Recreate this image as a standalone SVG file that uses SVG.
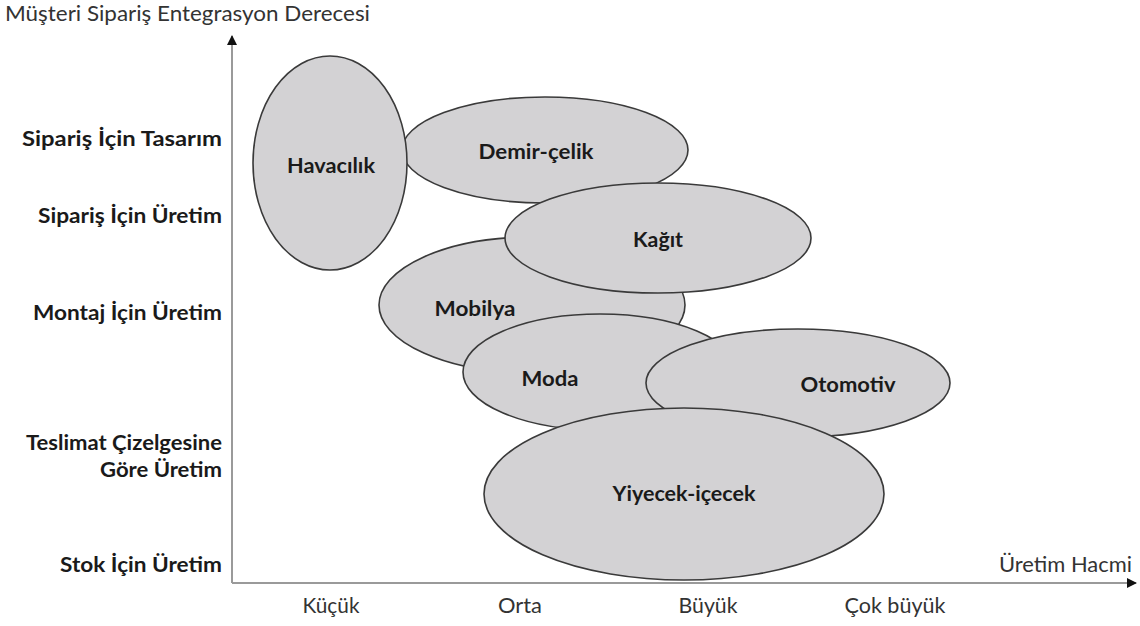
<svg xmlns="http://www.w3.org/2000/svg" width="1140" height="626" viewBox="0 0 1140 626">
  <style>
    .ell { fill: #d3d2d4; stroke: #3a3a3a; stroke-width: 1.6; }
    .lbl { font-family: Lato, "Liberation Sans", sans-serif; font-weight: bold; font-size: 21px; fill: #1a1a1a; text-anchor: middle; }
    .ylab { font-family: Lato, "Liberation Sans", sans-serif; font-weight: bold; font-size: 21px; fill: #1a1a1a; text-anchor: end; }
    .xlab { font-family: Lato, "Liberation Sans", sans-serif; font-size: 21px; fill: #333; text-anchor: middle; }
    .axis { stroke: #9a9a9a; stroke-width: 2; fill: none; }
  </style>
  <defs>
    <marker id="arr" viewBox="0 0 10 10" refX="9" refY="5" markerWidth="5" markerHeight="5" orient="auto-start-reverse">
      <path d="M0,0 L10,5 L0,10 z" fill="#111"/>
    </marker>
  </defs>
  <rect width="1140" height="626" fill="#fff"/>

  <!-- axes -->
  <g id="connectors">
    <path class="axis" d="M232,583 L232,36" marker-end="url(#arr)"/>
    <path class="axis" d="M232,583 L1136,583" marker-end="url(#arr)"/>
  </g>

  <!-- axis titles and tick labels -->
  <text x="5" y="21" class="xlab" style="text-anchor:start" textLength="365" lengthAdjust="spacingAndGlyphs">Müşteri Sipariş Entegrasyon Derecesi</text>
  <text x="1132" y="572" class="xlab" style="text-anchor:end" textLength="133" lengthAdjust="spacingAndGlyphs">Üretim Hacmi</text>
  <text x="331" y="613" class="xlab" textLength="57" lengthAdjust="spacingAndGlyphs">Küçük</text>
  <text x="520" y="613" class="xlab" textLength="44" lengthAdjust="spacingAndGlyphs">Orta</text>
  <text x="708" y="613" class="xlab" textLength="59" lengthAdjust="spacingAndGlyphs">Büyük</text>
  <text x="895" y="613" class="xlab" textLength="101" lengthAdjust="spacingAndGlyphs">Çok büyük</text>

  <text x="222" y="146" class="ylab" textLength="200" lengthAdjust="spacingAndGlyphs">Sipariş İçin Tasarım</text>
  <text x="222" y="223" class="ylab" textLength="184" lengthAdjust="spacingAndGlyphs">Sipariş İçin Üretim</text>
  <text x="222" y="320" class="ylab" textLength="189" lengthAdjust="spacingAndGlyphs">Montaj İçin Üretim</text>
  <text x="222" y="450" class="ylab" textLength="196" lengthAdjust="spacingAndGlyphs">Teslimat Çizelgesine</text>
  <text x="222" y="477" class="ylab" textLength="122" lengthAdjust="spacingAndGlyphs">Göre Üretim</text>
  <text x="222" y="572" class="ylab" textLength="162" lengthAdjust="spacingAndGlyphs">Stok İçin Üretim</text>

  <!-- sectors -->
  <g id="demir-celik">
    <ellipse class="ell" cx="545" cy="150" rx="143" ry="53"/>
    <text x="536" y="159" class="lbl" textLength="115" lengthAdjust="spacingAndGlyphs">Demir-çelik</text>
  </g>
  <g id="havacilik">
    <ellipse class="ell" cx="330" cy="163" rx="77" ry="107"/>
    <text x="331" y="173" class="lbl" textLength="88" lengthAdjust="spacingAndGlyphs">Havacılık</text>
  </g>
  <g id="mobilya">
    <ellipse class="ell" cx="532" cy="305" rx="153" ry="68"/>
    <text x="475" y="316" class="lbl" textLength="81" lengthAdjust="spacingAndGlyphs">Mobilya</text>
  </g>
  <g id="kagit">
    <ellipse class="ell" cx="658" cy="238" rx="153" ry="55"/>
    <text x="658" y="247" class="lbl" textLength="50" lengthAdjust="spacingAndGlyphs">Kağıt</text>
  </g>
  <g id="moda">
    <ellipse class="ell" cx="600" cy="372" rx="137" ry="58"/>
    <text x="550" y="386" class="lbl" textLength="57" lengthAdjust="spacingAndGlyphs">Moda</text>
  </g>
  <g id="otomotiv">
    <ellipse class="ell" cx="798" cy="383" rx="152" ry="54"/>
    <text x="848" y="392" class="lbl" textLength="95" lengthAdjust="spacingAndGlyphs">Otomotiv</text>
  </g>
  <g id="yiyecek-icecek">
    <ellipse class="ell" cx="684" cy="494" rx="200" ry="86"/>
    <text x="684" y="501" class="lbl" textLength="143" lengthAdjust="spacingAndGlyphs">Yiyecek-içecek</text>
  </g>
</svg>
